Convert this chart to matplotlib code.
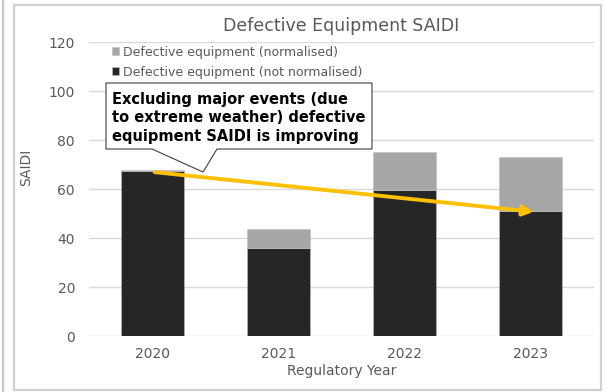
import matplotlib
matplotlib.use('Agg')
import matplotlib.pyplot as plt
from matplotlib.patches import Rectangle, Polygon
from matplotlib.lines import Line2D

# data:
years = ['2020', '2021', '2022', '2023']
not_normalised = [67.5, 36.2, 59.7, 51.3]
normalised_extra = [0.5, 7.5, 15.4, 21.7]
trend_start = (0.02, 67.0)
trend_end = (3.02, 50.8)

dark = '#262626'
light = '#a6a6a6'
grey_text = '#595959'
yellow = '#ffc000'

plt.rcParams['font.family'] = ['DejaVu Sans']

fig = plt.figure(figsize=(6.06, 3.92), dpi=100)
W, H = 606, 392

# outer frames
fig.add_artist(Rectangle((14 / W, 2 / H), 587 / W, 385 / H, transform=fig.transFigure,
                         fill=False, edgecolor='#d0d0d0', linewidth=1.6))
fig.add_artist(Line2D([3 / W, 3 / W], [0, 1], transform=fig.transFigure,
                      color='#c8c8c8', linewidth=1.6))

ax = fig.add_axes([89 / W, (H - 336.3) / H, 505 / W, 294 / H])

x = range(len(years))
ax.bar(x, not_normalised, width=0.5, color=dark, edgecolor='#bfbfbf', linewidth=0.4,
       label='Defective equipment (not normalised)', zorder=2)
ax.bar(x, normalised_extra, width=0.5, bottom=not_normalised, color=light,
       edgecolor='#bfbfbf', linewidth=0.4,
       label='Defective equipment (normalised)', zorder=2)

ax.set_xlim(-0.5, 3.5)
ax.set_ylim(0, 120)
ax.set_yticks(range(0, 121, 20))
ax.set_xticks(list(x))
ax.set_xticklabels(years)
ax.grid(axis='y', color='#d9d9d9', linewidth=1.0, zorder=0)
for s in ax.spines.values():
    s.set_visible(False)
ax.tick_params(length=0, colors=grey_text, labelsize=10)
ax.tick_params(axis='y', pad=10)
ax.tick_params(axis='x', pad=8)

ax.set_title('Defective Equipment SAIDI', color=grey_text, fontsize=12.5, pad=8)
ax.set_xlabel('Regulatory Year', color=grey_text, fontsize=10, labelpad=2)
ax.set_ylabel('SAIDI', color=grey_text, fontsize=10)
ax.yaxis.set_label_coords(-0.110, 0.576)

handles, labels = ax.get_legend_handles_labels()
leg = ax.legend(handles[::-1], labels[::-1], loc='upper left',
                bbox_to_anchor=(16 / 505, 1.012), frameon=False, fontsize=9,
                handlelength=0.6, handleheight=0.6, handletextpad=0.3,
                labelspacing=0.55, borderaxespad=0.15)
for t in leg.get_texts():
    t.set_color(grey_text)

# trend arrow
ax.annotate('', xy=trend_end, xytext=trend_start,
            arrowprops=dict(arrowstyle='-|>,head_length=0.6,head_width=0.3',
                            color=yellow, linewidth=2.8, shrinkA=0, shrinkB=0),
            zorder=5)

# callout box
box_l, box_r, box_t, box_b = 106, 372, 83, 149
tip = (203, 172)
pts = [(box_l, box_t), (box_r, box_t), (box_r, box_b), (217, box_b), tip,
       (152, box_b), (box_l, box_b)]
fig.add_artist(Polygon([(px / W, (H - py) / H) for px, py in pts], closed=True,
                       transform=fig.transFigure, facecolor='white',
                       edgecolor='#404040', linewidth=0.8, zorder=6))
fig.text(112 / W, (H - 118) / H,
         'Excluding major events (due\nto extreme weather) defective\nequipment SAIDI is improving',
         fontsize=10.5, fontweight='bold', color='black', va='center', ha='left',
         linespacing=1.3, zorder=7)

fig.savefig('out.png', dpi=100)
